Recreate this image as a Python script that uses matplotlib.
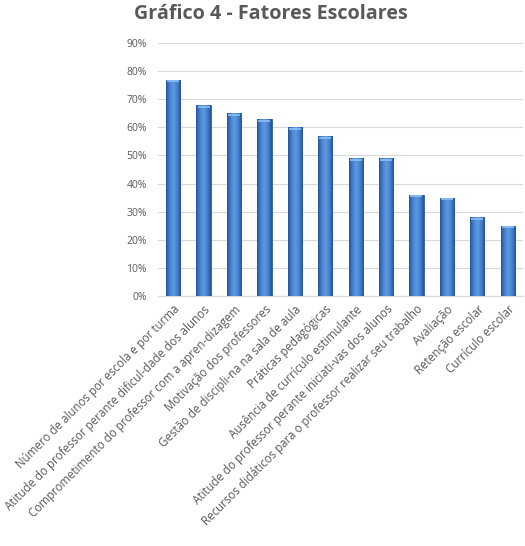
import numpy as np
import matplotlib
import matplotlib.pyplot as plt
from matplotlib.colors import LinearSegmentedColormap

matplotlib.use("agg")
plt.rcParams["font.family"] = ["Open Sans", "DejaVu Sans"]

title = "Gráfico 4 - Fatores Escolares"
categories = [
    "Número de alunos por escola e por turma",
    "Atitude do professor perante dificul-dade dos alunos",
    "Comprometimento do professor com a apren-dizagem",
    "Motivação dos professores",
    "Gestão de discipli-na na sala de aula",
    "Práticas pedagógicas",
    "Ausência de currículo estimulante",
    "Atitude do professor perante iniciati-vas dos alunos",
    "Recursos didáticos para o professor realizar seu trabalho",
    "Avaliação",
    "Retenção escolar",
    "Currículo escolar",
]
values = [77, 68, 65, 63, 60, 57, 49, 49, 36, 35, 28, 25]
yticks = [0, 10, 20, 30, 40, 50, 60, 70, 80, 90]

fig = plt.figure(figsize=(5.25, 5.46), dpi=100, facecolor="white")
ax = fig.add_axes([0.301, 0.458, 0.695, 0.463])

x = np.arange(len(categories))
bars = ax.bar(x, values, width=0.47, color="#3A70BE", edgecolor="#2B5A9E",
              linewidth=0.6, zorder=3)

# horizontal shading on each bar for the bevelled look
cmap = LinearSegmentedColormap.from_list(
    "bev", ["#24549C", "#4682D0", "#5E99E0", "#4682D0", "#24549C"])
grad = np.linspace(0, 1, 64).reshape(1, -1)
for b in bars:
    x0, w, h = b.get_x(), b.get_width(), b.get_height()
    im = ax.imshow(grad, cmap=cmap, aspect="auto", extent=[x0, x0 + w, 0, h],
                   zorder=4)
    im.set_clip_path(b)
    ax.plot([x0 + w * 0.08, x0 + w * 0.92], [h - 0.6, h - 0.6],
            color="#8FC0F5", linewidth=1.2, zorder=5, solid_capstyle="butt")

ax.set_xlim(-0.5, len(categories) - 0.5)
ax.set_ylim(0, 90)
ax.set_yticks(yticks)
ax.set_yticklabels([f"{v}%" for v in yticks])
ax.yaxis.grid(True, color="#D9D9D9", linewidth=0.8, zorder=0)
ax.set_axisbelow(True)

for side in ["top", "right", "left"]:
    ax.spines[side].set_visible(False)
ax.spines["bottom"].set_color("#D9D9D9")
ax.spines["bottom"].set_linewidth(1.0)

ax.tick_params(axis="y", length=0, labelsize=7.5, colors="#595959", pad=8)
ax.tick_params(axis="x", length=0, labelsize=8.3, colors="#595959", pad=5)
ax.set_xticks(x)
ax.set_xticklabels(categories, rotation=45, ha="right", rotation_mode="anchor")

fig.text(0.515, 0.975, title, ha="center", va="center", fontsize=14.2,
         fontweight="bold", color="#595959")

fig.savefig("out.png", dpi=100)
